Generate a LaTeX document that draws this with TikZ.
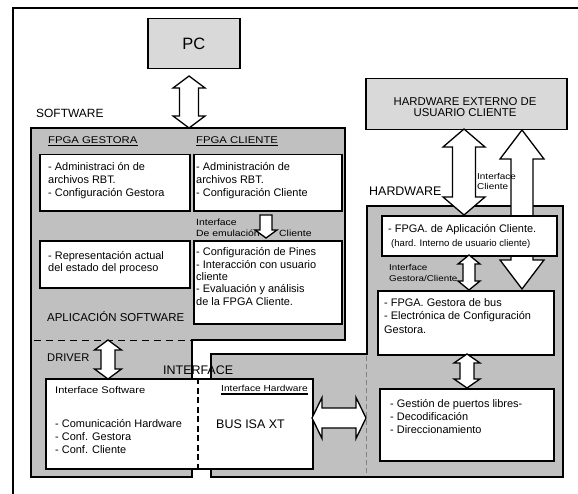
\documentclass[tikz,border=0pt]{standalone}
\usepackage{fontspec}
\setmainfont{Liberation Sans}
\newfontfamily\swide[FakeStretch=1.16]{Liberation Sans}
\usetikzlibrary{calc}
\definecolor{regiongray}{RGB}{192,192,192}
\definecolor{boxgray}{RGB}{217,217,217}
% vertical double fat arrow: top, bottom, half shaft, half head, head length
\newcommand\FatVV[5]{\path[fatarr] let \p1=(#1), \p2=(#2) in
  (\x1,\y1) -- (\x1+#4bp,\y1-#5bp) -- (\x1+#3bp,\y1-#5bp) -- (\x1+#3bp,\y2+#5bp) -- (\x1+#4bp,\y2+#5bp)
  -- (\x1,\y2) -- (\x1-#4bp,\y2+#5bp) -- (\x1-#3bp,\y2+#5bp) -- (\x1-#3bp,\y1-#5bp) -- (\x1-#4bp,\y1-#5bp) -- cycle;}
% vertical single fat arrow pointing down
\newcommand\FatVD[5]{\path[fatarr] let \p1=(#1), \p2=(#2) in
  (\x1-#3bp,\y1) -- (\x1+#3bp,\y1) -- (\x1+#3bp,\y2+#5bp) -- (\x1+#4bp,\y2+#5bp)
  -- (\x1,\y2) -- (\x1-#4bp,\y2+#5bp) -- (\x1-#3bp,\y2+#5bp) -- cycle;}
% horizontal double fat arrow: left, right, half shaft, half head, head length
\newcommand\FatHH[5]{\path[fatarr] let \p1=(#1), \p2=(#2) in
  (\x1,\y1) -- (\x1+#5bp,\y1+#4bp) -- (\x1+#5bp,\y1+#3bp) -- (\x2-#5bp,\y1+#3bp) -- (\x2-#5bp,\y1+#4bp)
  -- (\x2,\y1) -- (\x2-#5bp,\y1-#4bp) -- (\x2-#5bp,\y1-#3bp) -- (\x1+#5bp,\y1-#3bp) -- (\x1+#5bp,\y1-#4bp) -- cycle;}
\begin{document}
\begin{tikzpicture}[x=1bp,y=-1bp,
  wbox/.style={draw, fill=white, line width=1.5bp, inner sep=0pt, anchor=north west},
  gbox/.style={draw, fill=boxgray, line width=1.5bp, inner sep=0pt, anchor=north west},
  region/.style={draw, fill=regiongray, line width=1.5bp, line join=miter},
  fatarr/.style={draw, fill=white, line width=1.3bp, line join=miter},
  body/.style={font=\fontsize{11}{13.5}\selectfont, align=left, inner sep=0pt, anchor=base west},
  small/.style={font=\swide\fontsize{9}{11}\selectfont, align=left, inner sep=0pt, anchor=base west},
  lbl/.style={font=\fontsize{12}{14}\selectfont, inner sep=0pt, anchor=base west},
  uline/.style={line width=1.3bp},
]
\useasboundingbox (0,0) rectangle (578,494);
\clip (0,0) rectangle (578,494);
\fill[white] (0,0) rectangle (578,494);
% outer frame (runs off the right and bottom)
\draw[line width=1.3bp] (13,8) rectangle (610,530);

% regions
\path[region] (31,128) -- (345,128) -- (345,340) -- (192,340) -- (192,477) -- (31,477) -- cycle;
\path[region] (367,206) -- (563,206) -- (563,477) -- (211,477) -- (211,354) -- (367,354) -- cycle;
\draw[line width=0.8bp, dash pattern=on 7bp off 5bp] (34,340) -- (192,340);
\draw[gray, line width=0.6bp, dash pattern=on 5bp off 3bp] (366,356) -- (366,476);

% top boxes
\node[gbox, minimum width=92bp, minimum height=50bp, font=\fontsize{16.5}{18}\selectfont] (pc) at (147,18) {PC};
\node[gbox, minimum width=201bp, minimum height=51bp] (hwe) at (365,78) {};
\node[font=\fontsize{11.4}{12}\selectfont, align=center, inner sep=0pt, anchor=base] (hwet) at (465,117) {HARDWARE EXTERNO DE\\USUARIO CLIENTE};

% long arrow behind the application box
\coordinate (a2t) at (522,130);
\coordinate (a2b) at (522,289);
\FatVV{a2t}{a2b}{11}{22}{29}

% software boxes
\node[wbox, minimum width=150bp, minimum height=56bp] (g1) at (39,154) {};
\node[wbox, minimum width=148bp, minimum height=56bp] (c1) at (193,154) {};
\node[wbox, minimum width=150bp, minimum height=47bp] (g2) at (39,240) {};
\node[wbox, minimum width=148bp, minimum height=83bp] (c2) at (193,240) {};
\node[wbox, minimum width=267bp, minimum height=90bp] (drv) at (45,378) {};
\draw[line width=2.6bp, dash pattern=on 6bp off 3.5bp] (drv.north west -| 198,0) -- (drv.south west -| 198,0);

% hardware boxes
\node[wbox, minimum width=175bp, minimum height=40bp] (app) at (381,215) {};
\node[wbox, minimum width=176bp, minimum height=64bp] (fgb) at (377,290) {};
\node[wbox, minimum width=174bp, minimum height=72bp] (gpl) at (379,388) {};

% arrows
\coordinate (pcA) at (189,76);
\coordinate (pcB) at (189,128);
\FatVV{pcA}{pcB}{9.5}{16}{12}
\coordinate (drA) at (108,340);
\coordinate (drB) at (108,379);
\FatVV{drA}{drB}{7}{13.5}{10}
\coordinate (emA) at (266,215);
\coordinate (emB) at (266,238);
\FatVD{emA}{emB}{6}{11}{8}
\coordinate (h1A) at (464,129);
\coordinate (h1B) at (464,215);
\FatVV{h1A}{h1B}{11.5}{21}{18}
\coordinate (agA) at (469,255);
\coordinate (agB) at (469,290);
\FatVV{agA}{agB}{6}{11}{9}
\coordinate (ggA) at (467,354);
\coordinate (ggB) at (467,388);
\FatVV{ggA}{ggB}{7}{13}{9}
\coordinate (hzA) at (312,418);
\coordinate (hzB) at (366,418);
\FatHH{hzA}{hzB}{10}{20.5}{10}

% labels
\node[lbl] (lsw) at (36,117.5) {SOFTWARE};
\node[lbl, font=\fontsize{11.5}{13}\selectfont] (lap) at (47,321.5) {APLICACIÓN SOFTWARE};
\node[lbl, font=\fontsize{11.2}{13}\selectfont] (ldr) at (47,361) {DRIVER};
\node[lbl, font=\fontsize{12.5}{14}\selectfont] (lin) at (163,374.5) {INTERFACE};
\node[lbl, font=\fontsize{12.5}{14}\selectfont] (lhw) at (369,195.5) {HARDWARE};

\node[small, font=\swide\fontsize{9.8}{11}\selectfont] (fgt) at (48,144) {FPGA GESTORA};
\draw[uline] ([yshift=-1.5bp]fgt.base west) -- ([yshift=-1.5bp]fgt.base east);
\node[small, font=\swide\fontsize{9.8}{11}\selectfont] (fct) at (196,144) {FPGA CLIENTE};
\draw[uline] ([yshift=-1.5bp]fct.base west) -- ([yshift=-1.5bp]fct.base east);

% (multi-line nodes: base anchor = last line's baseline)
\node[body] (t1) at (48,197) {- Administraci ón de\\archivos RBT.\\- Configuración Gestora};
\node[body] (t2) at (196,197) {- Administración de\\archivos RBT.\\- Configuración Cliente};
\node[body, font=\fontsize{11}{12}\selectfont] (t3) at (48,271) {- Representación actual\\del estado del proceso};
\node[body, font=\fontsize{11}{12.3}\selectfont] (t4) at (196,305) {- Configuración de Pines\\- Interacción con usuario\\cliente\\- Evaluación y análisis\\de la FPGA Cliente.};
\node[small] (te) at (196,236) {Interface\\De emulación};
\node[small] (tec) at (279,236) {Cliente};

\node[small, font=\swide\fontsize{9.6}{11}\selectfont] (tis) at (55,393) {Interface Software};
\node[body, font=\fontsize{11}{13}\selectfont] (tdr) at (55,453) {- Comunicación Hardware\\- Conf. Gestora\\- Conf. Cliente};
\node[lbl, font=\fontsize{12.5}{14}\selectfont] (tbus) at (216,428) {BUS ISA XT};
\node[small, font=\swide\fontsize{8.8}{11}\selectfont] (tih) at (221,391) {Interface Hardware};
\draw[line width=2bp] ([yshift=-2.5bp]tih.base west) -- ([yshift=-2.5bp]tih.base east);

\node[body] (tap) at (388,232) {- FPGA. de Aplicación Cliente.};
\node[small, font=\fontsize{9.6}{11}\selectfont] (tap2) at (391,246) {(hard. Interno de usuario cliente)};
\node[small, font=\swide\fontsize{8.6}{11}\selectfont] (tic) at (477,190) {Interface\\Cliente};
\node[small, font=\swide\fontsize{8.5}{11}\selectfont] (tigc) at (389,281) {Interface\\Gestora/Cliente};
\node[body] (tfg) at (384,333) {- FPGA. Gestora de bus\\- Electrónica de Configuración\\Gestora.};
\node[body, font=\fontsize{11}{13}\selectfont] (tgp) at (390,433) {- Gestión de puertos libres-\\- Decodificación\\- Direccionamiento};
\end{tikzpicture}
\end{document}
